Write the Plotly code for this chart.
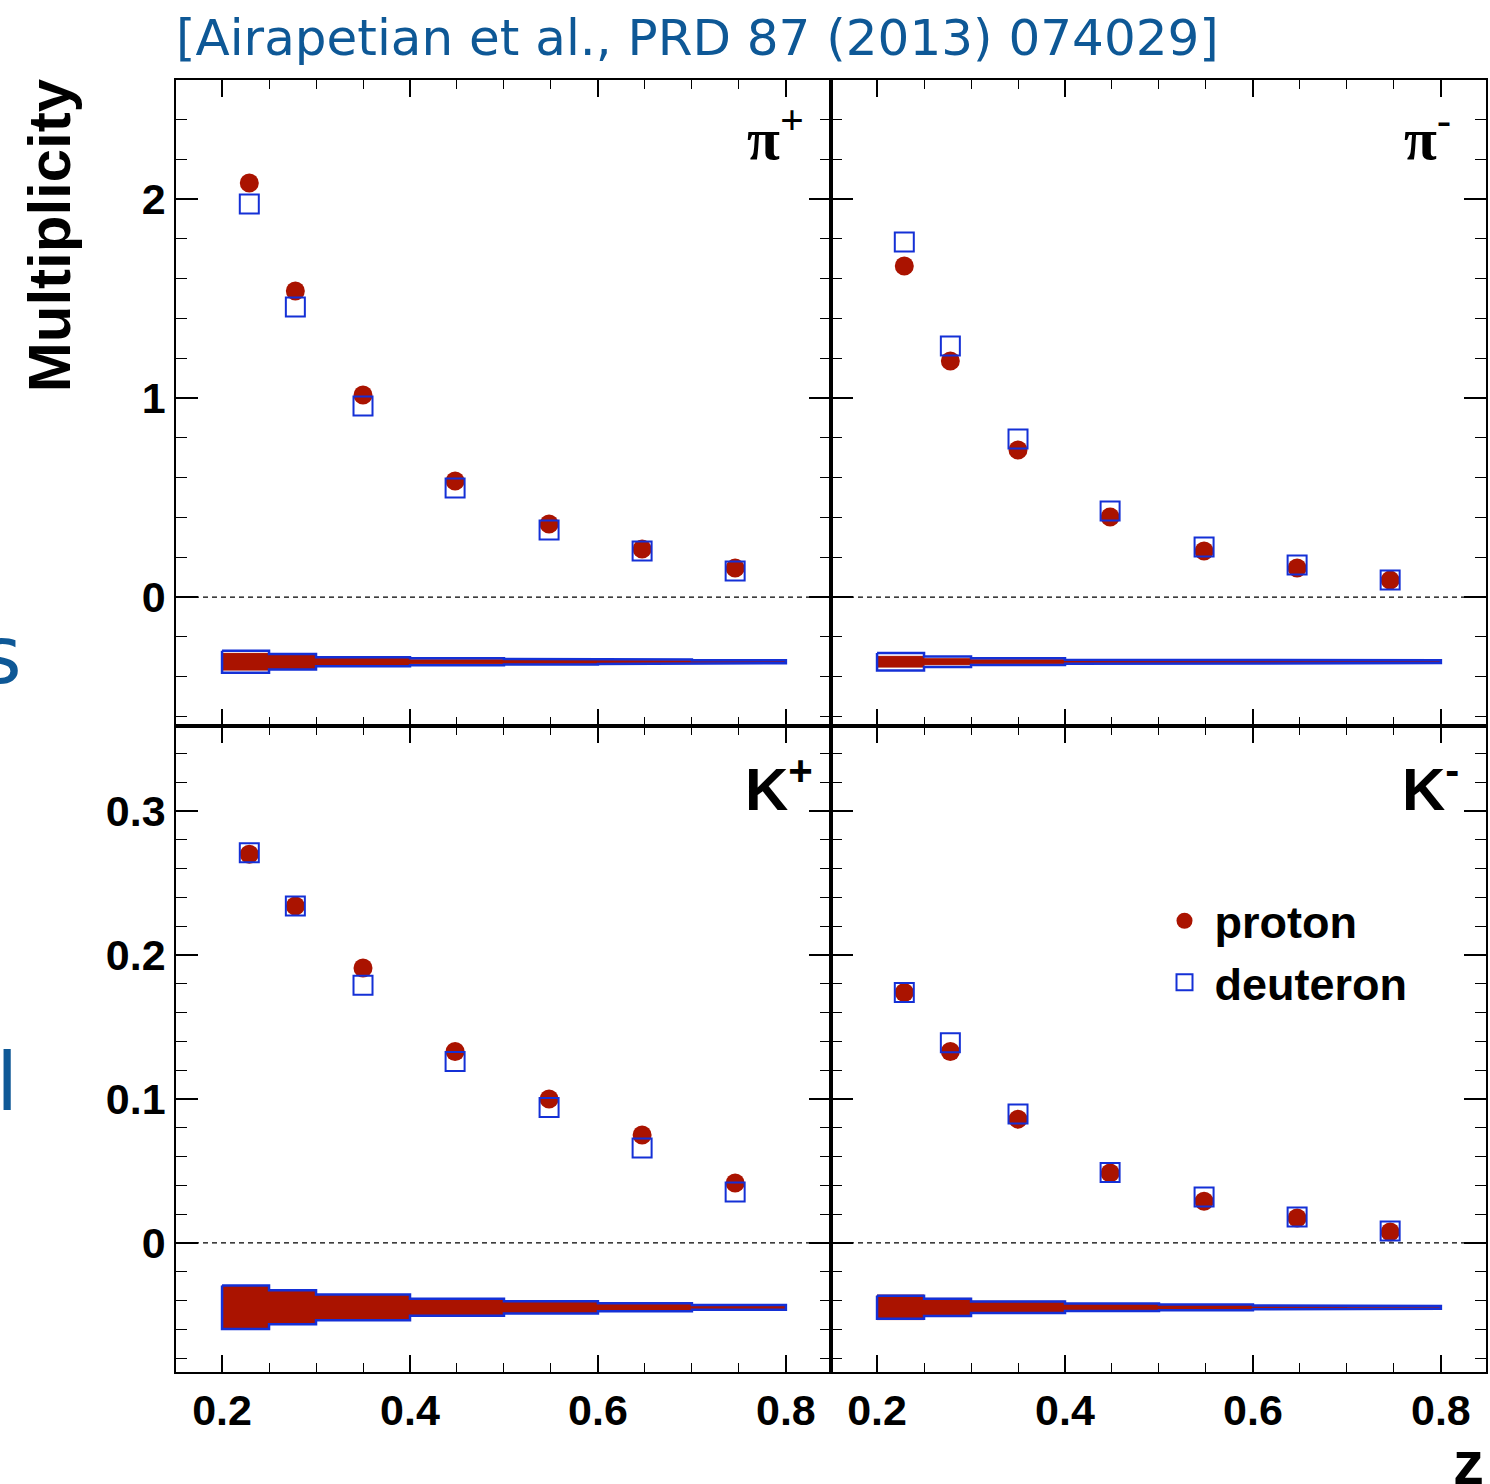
import plotly.graph_objects as go
from plotly.subplots import make_subplots

# ---------------- data ----------------
z_mean = [0.229, 0.278, 0.350, 0.448, 0.548, 0.647, 0.746]
bin_lo = [0.20, 0.25, 0.30, 0.40, 0.50, 0.60, 0.70]
bin_hi = [0.25, 0.30, 0.40, 0.50, 0.60, 0.70, 0.80]

# pi+
pip_proton   = [2.08, 1.538, 1.015, 0.583, 0.367, 0.241, 0.146]
pip_deuteron = [1.975, 1.457, 0.960, 0.548, 0.337, 0.231, 0.131]
pip_sys_p = [0.042, 0.034, 0.016, 0.010, 0.010, 0.006, 0.004]
pip_sys_d = [0.055, 0.039, 0.023, 0.018, 0.014, 0.011, 0.0075]
# pi-
pim_proton   = [1.663, 1.186, 0.739, 0.402, 0.231, 0.146, 0.085]
pim_deuteron = [1.784, 1.261, 0.794, 0.432, 0.251, 0.161, 0.085]
pim_sys_p = [0.027, 0.015, 0.010, 0.005, 0.004, 0.003, 0.003]
pim_sys_d = [0.0435, 0.026, 0.017, 0.010, 0.0075, 0.0075, 0.007]
# K+
kp_proton   = [0.270, 0.234, 0.191, 0.133, 0.100, 0.075, 0.0417]
kp_deuteron = [0.271, 0.234, 0.179, 0.126, 0.094, 0.066, 0.0354]
kp_sys_p = [0.0151, 0.0118, 0.0089, 0.0059, 0.0042, 0.0028, 0.0016]
kp_sys_d = [0.0151, 0.0118, 0.0089, 0.0059, 0.0042, 0.0028, 0.0016]
# K-
km_proton   = [0.174, 0.133, 0.086, 0.0486, 0.029, 0.0174, 0.0076]
km_deuteron = [0.174, 0.139, 0.0896, 0.049, 0.032, 0.018, 0.0083]
km_sys_p = [0.0085, 0.0062, 0.0042, 0.0024, 0.0017, 0.0009, 0.0003]
km_sys_d = [0.0080, 0.0060, 0.0040, 0.0026, 0.0020, 0.0013, 0.0009]

band_center_pi = -0.325
band_center_k = -0.0447

panel_labels = ["π<sup>+</sup>", "π<sup>-</sup>", "K<sup>+</sup>", "K<sup>-</sup>"]
title_text = "[Airapetian et al., PRD 87 (2013) 074029]"

RED = "#aa1300"
BLUE = "#1430d6"
TITLE_BLUE = "#0e5896"

W, H = 1490, 1484
ML, MR, MT, MB = 176, 2, 80, 112
PW, PH = W - ML - MR, H - MT - MB


def px_x(px):
    return (px - ML) / PW


def px_y(py):
    return 1 - (py - MT) / PH


def band_polygon(center, err):
    xs, ys = [], []
    for lo, hi, e in zip(bin_lo, bin_hi, err):
        xs += [lo, hi]
        ys += [center + e, center + e]
    for lo, hi, e in reversed(list(zip(bin_lo, bin_hi, err))):
        xs += [hi, lo]
        ys += [center - e, center - e]
    xs.append(xs[0])
    ys.append(ys[0])
    return xs, ys


fig = make_subplots(rows=2, cols=2, horizontal_spacing=0, vertical_spacing=0)

panels = [
    (1, 1, pip_proton, pip_deuteron, pip_sys_p, pip_sys_d, band_center_pi),
    (1, 2, pim_proton, pim_deuteron, pim_sys_p, pim_sys_d, band_center_pi),
    (2, 1, kp_proton, kp_deuteron, kp_sys_p, kp_sys_d, band_center_k),
    (2, 2, km_proton, km_deuteron, km_sys_p, km_sys_d, band_center_k),
]

for i, (r, c, prot, deut, sp, sd, bc) in enumerate(panels):
    bx, by = band_polygon(bc, sp)
    fig.add_trace(go.Scatter(x=bx, y=by, mode="lines", fill="toself",
                             fillcolor=RED, line=dict(color=RED, width=1),
                             showlegend=False, hoverinfo="skip"), row=r, col=c)
    bx, by = band_polygon(bc, sd)
    fig.add_trace(go.Scatter(x=bx, y=by, mode="lines",
                             line=dict(color=BLUE, width=2.5),
                             showlegend=False, hoverinfo="skip"), row=r, col=c)
    fig.add_hline(y=0, line=dict(color="black", width=1.2, dash="5px,4px"), row=r, col=c)
    fig.add_trace(go.Scatter(x=z_mean, y=prot, mode="markers", name="proton",
                             marker=dict(symbol="circle", size=19, color=RED),
                             showlegend=(i == 3)), row=r, col=c)
    fig.add_trace(go.Scatter(x=z_mean, y=deut, mode="markers", name="deuteron",
                             marker=dict(symbol="square-open", size=19, color=BLUE,
                                         line=dict(width=2, color=BLUE)),
                             showlegend=(i == 3)), row=r, col=c)

tickfont = dict(family="Liberation Sans", size=43, color="black", weight="bold")

xcommon = dict(range=[0.151, 0.848], showgrid=False, zeroline=False,
               showline=True, linecolor="black", linewidth=1.6, mirror="ticks",
               ticks="inside", ticklen=17, tickwidth=1.5, tickcolor="black",
               tick0=0.2, dtick=0.2, tickformat=".1f",
               minor=dict(ticks="inside", dtick=0.05, tick0=0.2, ticklen=9,
                          tickwidth=1.2, tickcolor="black", showgrid=False),
               tickfont=tickfont)
for r in (1, 2):
    for c in (1, 2):
        fig.update_xaxes(**xcommon, showticklabels=(r == 2), row=r, col=c)

ycommon = dict(showgrid=False, zeroline=False, showline=True, linecolor="black",
               linewidth=1.6, mirror="ticks", ticks="inside", ticklen=22,
               tickwidth=1.5, tickcolor="black", tickfont=tickfont)
for c in (1, 2):
    fig.update_yaxes(**ycommon, range=[-0.648, 2.598], tick0=0, dtick=1,
                     minor=dict(ticks="inside", dtick=0.2, tick0=0, ticklen=11,
                                tickwidth=1.2, tickcolor="black", showgrid=False),
                     showticklabels=(c == 1), row=1, col=c)
    fig.update_yaxes(**ycommon, range=[-0.0896, 0.359], tick0=0, dtick=0.1,
                     minor=dict(ticks="inside", dtick=0.02, tick0=0, ticklen=11,
                                tickwidth=1.2, tickcolor="black", showgrid=False),
                     showticklabels=(c == 1), row=2, col=c)

annotations = []
# panel labels
label_axes = [("x", "y", 0.962, 0.977), ("x2", "y2", 0.950, 0.977),
              ("x3", "y3", 0.975, 0.97), ("x4", "y4", 0.962, 0.97)]
for (xa, ya, xr, yr), txt in zip(label_axes, panel_labels):
    fam = "Liberation Serif" if "π" in txt else "Liberation Sans"
    annotations.append(dict(text=txt, xref=xa + " domain", yref=ya + " domain",
                            x=xr, y=yr, xanchor="right", yanchor="top",
                            showarrow=False,
                            font=dict(family=fam, size=60, color="black", weight="bold")))
# title
annotations.append(dict(text=title_text, xref="paper", yref="paper",
                        x=px_x(174), y=px_y(38), xanchor="left", yanchor="middle",
                        showarrow=False,
                        font=dict(family="DejaVu Sans", size=50, color=TITLE_BLUE)))
# y title
annotations.append(dict(text="Multiplicity", xref="paper", yref="paper",
                        x=px_x(50), y=px_y(76), xanchor="center", yanchor="top",
                        textangle=-90, showarrow=False,
                        font=dict(family="Liberation Sans", size=60, color="black",
                                  weight="bold")))
# x title
annotations.append(dict(text="z", xref="paper", yref="paper",
                        x=px_x(1488), y=px_y(1462), xanchor="right", yanchor="middle",
                        showarrow=False,
                        font=dict(family="Liberation Sans", size=62, color="black",
                                  weight="bold")))
# cut-off fragments at the left edge
annotations.append(dict(text="s", xref="paper", yref="paper",
                        x=px_x(24), y=px_y(655), xanchor="right", yanchor="middle",
                        showarrow=False,
                        font=dict(family="DejaVu Sans", size=80, color=TITLE_BLUE)))
annotations.append(dict(text="l", xref="paper", yref="paper",
                        x=px_x(20), y=px_y(1082), xanchor="right", yanchor="middle",
                        showarrow=False,
                        font=dict(family="DejaVu Sans", size=80, color=TITLE_BLUE)))

fig.update_layout(
    width=W, height=H,
    margin=dict(l=ML, r=MR, t=MT, b=MB),
    paper_bgcolor="white", plot_bgcolor="white",
    annotations=annotations,
    showlegend=True,
    legend=dict(x=px_x(1156), y=px_y(885), xanchor="left", yanchor="top",
                bgcolor="rgba(0,0,0,0)", itemwidth=50,
                font=dict(family="Liberation Sans", size=45, color="black", weight="bold"),
                tracegroupgap=0),
)

fig.write_html("out.html")
